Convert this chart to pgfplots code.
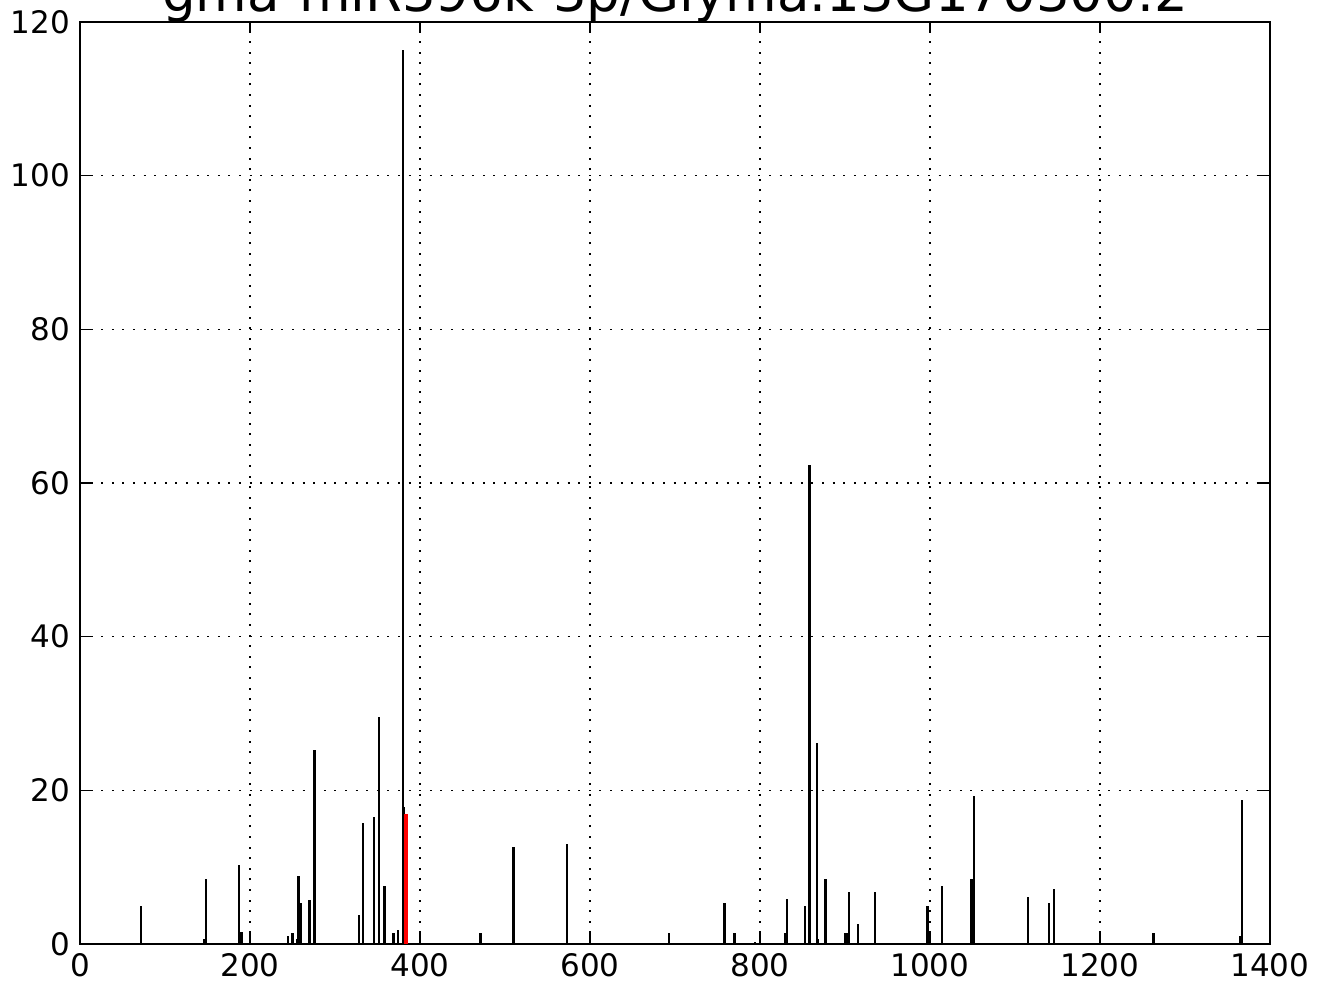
\documentclass[border=0pt]{standalone}
\usepackage{fontspec}
\setmainfont{DejaVu Sans}
\usepackage{pgfplots}
\pgfplotsset{compat=1.18}

\begin{document}
\begin{tikzpicture}
\begin{axis}[
  width=595pt, height=461pt,
  scale only axis,
  xmin=0, xmax=1400,
  ymin=0, ymax=120,
  xtick={0,200,...,1400},
  ytick={0,20,...,120},
  tick align=inside,
  major tick length=5.5pt,
  every tick/.style={black, line width=0.8pt},
  axis line style={line width=1pt},
  grid=major,
  major grid style={black, line width=0.8pt, dash pattern=on 1pt off 4.3pt},
  ticklabel style={font=\fontsize{15.5}{18}\selectfont},
  /pgf/number format/assume math mode=true,
  /pgf/number format/1000 sep={},
  xticklabel style={yshift=-1pt},
  yticklabel style={xshift=-1.5pt},
  clip=false,
]
% read counts along the transcript
\addplot[ycomb, black, line width=1.2pt, mark=none] coordinates {
(72,4.9)(146,0.6)(148,8.4)(187,10.3)(190,1.5)(245,1.0)(250,1.4)(255,0.6)
(257,8.8)(260,5.3)(270,5.7)(276,25.3)(328,3.8)(333,15.7)(346,16.5)(352,29.6)
(358,7.6)(369,1.4)(374,1.8)(380,116.4)(381,17.8)(471,1.4)(510,12.6)(573,13.0)
(693,1.4)(758,5.3)(770,1.4)(794,0.3)(830,1.4)(832,5.8)(853,4.9)(858,62.3)
(867,26.1)(868,0.6)(877,8.4)(900,1.4)(903,1.4)(905,6.8)(915,2.6)(935,6.8)
(997,4.9)(1014,7.6)(1049,8.4)(1052,19.2)(1115,6.1)(1140,5.3)(1146,7.2)
(1263,1.4)(1365,1.0)(1367,18.8)
};
% cleavage site
\addplot[ycomb, red, line width=2pt, mark=none] coordinates {
(383,16.9)
};
\end{axis}
\node[anchor=base, yshift=5pt, font=\fontsize{26.5}{30}\selectfont]
  at (current axis.north) {gma-miR396k-3p/Glyma.13G170300.2};
\pgfresetboundingbox
\path ([shift={(-40pt,-20.5pt)}]current axis.south west)
  rectangle ([shift={(24pt,11pt)}]current axis.north east);
\end{tikzpicture}
\end{document}
